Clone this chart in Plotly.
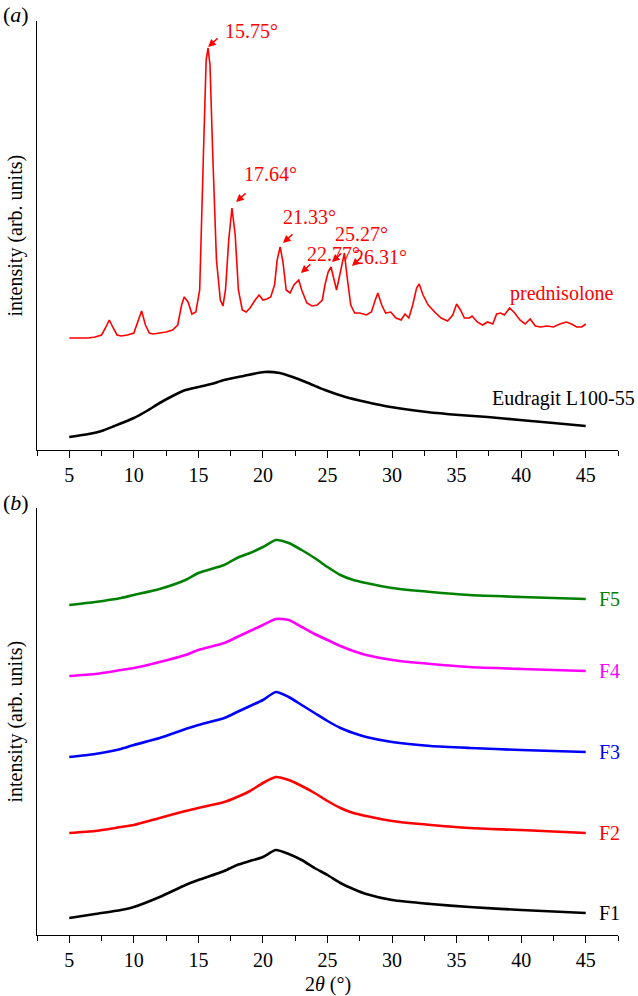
import plotly.graph_objects as go

# ---------------- data ----------------
# Panel (a): prednisolone diffractogram (2theta, intensity a.u.)
pred_2theta = [5.0, 5.5, 6.0, 6.5, 7.0, 7.5, 7.8, 8.1, 8.4, 8.7, 9.0, 9.5, 10.0, 10.3, 10.6,
               10.9, 11.2, 11.5, 12.0, 12.5, 13.0, 13.4, 13.7, 13.9, 14.2, 14.5, 14.8, 15.1,
               15.4, 15.6, 15.75, 15.9, 16.1, 16.4, 16.7, 16.9, 17.1, 17.35, 17.6, 17.85,
               18.1, 18.4, 18.7, 19.0, 19.4, 19.7, 20.0, 20.3, 20.6, 20.9, 21.1, 21.33, 21.55,
               21.8, 22.1, 22.4, 22.77, 23.0, 23.4, 23.8, 24.2, 24.6, 24.8, 25.05, 25.27,
               25.5, 25.7, 25.9, 26.1, 26.31, 26.5, 26.8, 27.1, 27.5, 28.0, 28.4, 28.7, 28.9,
               29.2, 29.5, 29.9, 30.3, 30.7, 31.0, 31.3, 31.6, 31.9, 32.1, 32.4, 32.8, 33.3,
               33.8, 34.3, 34.7, 35.0, 35.3, 35.6, 36.0, 36.2, 36.6, 37.0, 37.4, 37.8, 38.1,
               38.4, 38.7, 39.1, 39.5, 39.9, 40.3, 40.7, 41.1, 41.5, 42.0, 42.5, 43.0, 43.5,
               43.9, 44.3, 44.7, 45.0]
pred_int = [112, 112, 111.5, 112, 113, 115, 122, 130, 122, 115, 114, 115, 117, 128, 139,
            125, 117, 116, 117, 118, 120, 125, 145, 153, 148, 136, 138, 160,
            300, 390, 402, 385, 300, 190, 150, 144, 160, 210, 242, 215,
            160, 140, 138, 142, 150, 155, 150, 151, 153, 165, 190, 203, 188,
            160, 157, 165, 170, 160, 147, 144, 145, 150, 165, 178, 183,
            170, 160, 172, 185, 197, 175, 145, 137, 137, 135, 138, 150, 157,
            145, 137, 138, 132, 130, 136, 132, 145, 162, 166, 155, 145, 138,
            132, 129, 135, 146, 140, 132, 132, 134, 128, 125, 128, 126, 136,
            137, 135, 142, 137, 130, 126, 131, 124, 123, 124, 123, 126, 128,
            126, 123, 123, 126]

# Panel (a): Eudragit L100-55
eud_2theta = [5.0, 6.5, 7.5, 8.5, 10.0, 11.0, 12.0, 13.0, 14.0, 15.0, 16.0, 17.0, 18.5,
              20.1, 21.3, 22.3, 23.5, 24.8, 26.4, 28.0, 29.9, 32.7, 35.2, 37.4, 39.9,
              42.5, 45.0]
eud_int = [13, 16, 19, 24, 32, 39, 47, 54, 60, 63, 66, 70, 74,
           78, 77, 73, 67, 60, 53, 48, 43, 38, 35, 33, 30, 27, 24]

# Panel (b): formulations F1-F5
form_2theta = [5, 7, 9, 10, 12, 14, 15, 17, 18, 19, 20, 21, 22, 23, 24, 25, 26, 27, 28,
               30, 33, 36, 40, 45]
F1 = [17, 21, 25, 28, 38, 50, 55, 64, 70, 74, 78, 85, 81, 75, 67, 60, 52, 46, 41,
      35, 31, 28, 25, 22]
F2 = [102, 104, 108, 110, 117, 124, 127, 133, 138, 144, 152, 158, 155, 149, 142, 134, 127,
      122, 119, 114, 110, 107, 105, 102]
F3 = [178, 181, 186, 190, 197, 206, 210, 217, 223, 229, 235, 243, 238, 230, 222, 214, 207,
      202, 198, 193, 189, 187, 185, 183]
F4 = [259, 261, 265, 267, 273, 280, 285, 292, 298, 304, 310, 316, 315, 308, 301, 295, 289,
      284, 280, 275, 271, 268, 266, 264]
F5 = [330, 333, 337, 340, 346, 355, 362, 370, 377, 382, 388, 395, 392, 385, 377, 368, 360,
      355, 352, 347, 343, 340, 338, 336]

form_names = ["F1", "F2", "F3", "F4", "F5"]
form_colors = ["#000000", "#ff0000", "#0000ff", "#ff00ff", "#008000"]

peak_labels = [15.75, 17.64, 21.33, 22.77, 25.27, 26.31]
x_ticks = [5, 10, 15, 20, 25, 30, 35, 40, 45]

# ---------------- figure ----------------
W, H = 638, 996
FONT = "Liberation Serif"
fig = go.Figure()

fig.add_trace(go.Scatter(x=pred_2theta, y=pred_int, mode="lines",
                         line=dict(color="#ff0000", width=1.6), xaxis="x", yaxis="y",
                         showlegend=False))
fig.add_trace(go.Scatter(x=eud_2theta, y=eud_int, mode="lines",
                         line=dict(color="#000000", width=2.6, shape="spline", smoothing=0.6),
                         xaxis="x", yaxis="y", showlegend=False))
for name, vals, col in zip(form_names, [F1, F2, F3, F4, F5], form_colors):
    fig.add_trace(go.Scatter(x=form_2theta, y=vals, mode="lines", name=name,
                             line=dict(color=col, width=2.6, shape="spline", smoothing=0.6),
                             xaxis="x2", yaxis="y2", showlegend=False))

xpx0, xpx1 = 37, 618
dom_x = [xpx0 / W, xpx1 / W]
a_top, a_bot = 21, 450
b_top, b_bot = 508, 935

xaxis_common = dict(range=[2.5, 47.5], showline=True, linecolor="black", linewidth=1.3,
                    ticks="outside", ticklen=7, tickwidth=1.3, tickcolor="black",
                    tickvals=x_ticks, ticktext=[str(v) for v in x_ticks],
                    minor=dict(tickvals=[2.5 + 5 * i for i in range(10)], ticks="outside",
                               ticklen=5, tickwidth=1.3, tickcolor="black"),
                    showgrid=False, zeroline=False,
                    tickfont=dict(family=FONT, size=20, color="black"))
yaxis_common = dict(showline=True, linecolor="black", linewidth=1.3, ticks="",
                    showticklabels=False, showgrid=False, zeroline=False)

fig.update_layout(
    width=W, height=H, margin=dict(l=0, r=0, t=0, b=0),
    paper_bgcolor="white", plot_bgcolor="white",
    font=dict(family=FONT, size=20, color="black"),
    xaxis=dict(domain=dom_x, anchor="y", **xaxis_common),
    yaxis=dict(domain=[1 - a_bot / H, 1 - a_top / H], range=[0, a_bot - a_top], anchor="x",
               **yaxis_common),
    xaxis2=dict(domain=dom_x, anchor="y2", **xaxis_common),
    yaxis2=dict(domain=[1 - b_bot / H, 1 - b_top / H], range=[0, b_bot - b_top], anchor="x2",
                **yaxis_common),
)

red = "#ff0000"
ann = []
# arrow heads (data coords) and text positions for peak labels
head_dx = [0.0, 0.28, 0.22, 0.17, 0.07, 0.58]
head_y = [403, 248, 207, 177, 188, 184]
text_dx = [1.15, 0.7, 0.1, 0.5, 0.15, 0.62]
text_y = [419, 276, 233, 196, 216, 193]
for p, hdx, hy, tdx, ty in zip(peak_labels, head_dx, head_y, text_dx, text_y):
    ann.append(dict(x=p + hdx, y=hy, xref="x", yref="y", text="", showarrow=True,
                    ax=11, ay=-10, arrowhead=2, arrowsize=1.1, arrowwidth=1.4,
                    arrowcolor=red))
    ann.append(dict(x=p + tdx, y=ty, xref="x", yref="y", text=f"{p:.2f}°",
                    showarrow=False, xanchor="left", yanchor="middle",
                    font=dict(family=FONT, size=20, color=red)))

ann.append(dict(x=508 / W, y=1 - 293 / H, xref="paper", yref="paper", text="prednisolone",
                showarrow=False, xanchor="left", yanchor="middle",
                font=dict(family=FONT, size=20, color=red)))
ann.append(dict(x=490 / W, y=1 - 398 / H, xref="paper", yref="paper", text="Eudragit L100-55",
                showarrow=False, xanchor="left", yanchor="middle",
                font=dict(family=FONT, size=20, color="black")))

for name, vals, col in zip(form_names, [F1, F2, F3, F4, F5], form_colors):
    ann.append(dict(x=45.9, y=vals[-1], xref="x2", yref="y2", text=name, showarrow=False,
                    xanchor="left", yanchor="middle",
                    font=dict(family=FONT, size=20, color=col)))

ann.append(dict(x=1 / W, y=1 - 15 / H, xref="paper", yref="paper", text="(<i>a</i>)",
                showarrow=False, xanchor="left", yanchor="middle",
                font=dict(family=FONT, size=22, color="black")))
ann.append(dict(x=1 / W, y=1 - 503 / H, xref="paper", yref="paper", text="(<i>b</i>)",
                showarrow=False, xanchor="left", yanchor="middle",
                font=dict(family=FONT, size=22, color="black")))
for yc in [(a_top + a_bot) / 2, (b_top + b_bot) / 2]:
    ann.append(dict(x=15 / W, y=1 - yc / H, xref="paper", yref="paper",
                    text="intensity (arb. units)", textangle=-90, showarrow=False,
                    xanchor="center", yanchor="middle",
                    font=dict(family=FONT, size=20, color="black")))
ann.append(dict(x=(xpx0 + xpx1) / 2 / W, y=1 - 984 / H, xref="paper", yref="paper",
                text="2<i>θ</i> (°)", showarrow=False, xanchor="center", yanchor="middle",
                font=dict(family=FONT, size=20, color="black")))

fig.update_layout(annotations=ann)
fig.write_html("out.html", config={"displayModeBar": False},
               post_script="document.body.style.margin='0';document.body.style.padding='0';")
